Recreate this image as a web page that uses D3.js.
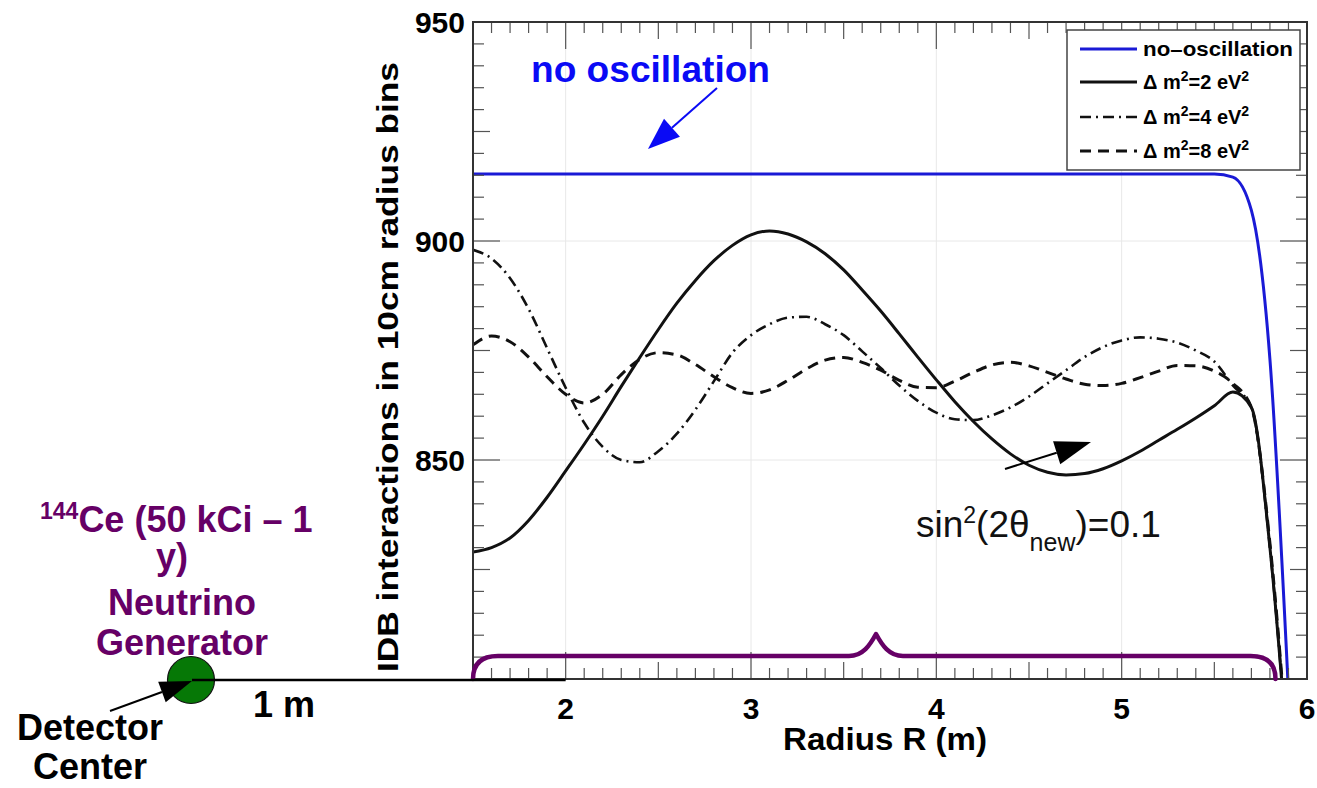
<!DOCTYPE html>
<html>
<head>
<meta charset="utf-8">
<script src="https://cdn.jsdelivr.net/npm/d3@7"></script>
<style>
  body { margin: 0; background: #fff; }
  svg { display: block; font-family: "Liberation Sans", Arial, Helvetica, sans-serif; }
</style>
</head>
<body>
<svg id="chart" width="1317" height="788"></svg>
<script>
// Radius of each 10 cm bin (m)
const radius = [1.5, 1.6, 1.7, 1.8, 1.9, 2.0, 2.1, 2.2, 2.3, 2.4,
                2.5, 2.6, 2.7, 2.8, 2.9, 3.0, 3.1, 3.2, 3.3, 3.4,
                3.5, 3.6, 3.7, 3.8, 3.9, 4.0, 4.1, 4.2, 4.3, 4.4,
                4.5, 4.6, 4.7, 4.8, 4.9, 5.0, 5.1, 5.2, 5.3, 5.4,
                5.5, 5.6, 5.7, 5.8, 5.9, 6.0];

// IBD interactions per bin, no oscillation
const noOscillation = [915.3, 915.3, 915.3, 915.3, 915.3, 915.3, 915.3, 915.3, 915.3, 915.3,
                       915.3, 915.3, 915.3, 915.3, 915.3, 915.3, 915.3, 915.3, 915.3, 915.3,
                       915.3, 915.3, 915.3, 915.3, 915.3, 915.3, 915.3, 915.3, 915.3, 915.3,
                       915.3, 915.3, 915.3, 915.3, 915.3, 915.3, 915.3, 915.3, 915.3, 915.3,
                       915.3, 914.6, 907.0, 873.0, 797.0, 700.0];

// Δm² = 2 eV²
const dm2 = [829.0, 830.0, 832.2, 836.2, 841.5, 847.5, 853.6, 860.0, 866.8, 873.4,
             879.8, 885.8, 891.0, 895.5, 899.0, 901.4, 902.3, 901.6, 899.8, 897.1,
             893.4, 888.8, 884.0, 878.8, 873.5, 868.3, 863.3, 858.8, 854.8, 851.4,
             848.8, 847.2, 846.6, 846.9, 848.0, 849.8, 852.0, 854.5, 857.0, 859.6,
             862.4, 865.5, 862.0, 830.0, 780.0, 720.0];

// Δm² = 4 eV²
const dm4 = [898.0, 896.0, 891.5, 884.5, 875.5, 866.5, 858.5, 853.0, 850.0, 849.5,
             852.0, 856.0, 861.5, 868.0, 874.5, 878.5, 881.0, 882.5, 882.7, 881.0,
             878.5, 874.8, 871.0, 867.0, 863.5, 860.8, 859.3, 859.1, 860.2, 862.0,
             864.5, 867.5, 870.5, 873.5, 875.8, 877.3, 878.0, 877.7, 876.8, 875.0,
             872.5, 867.0, 862.0, 830.0, 780.0, 720.0];

// Δm² = 8 eV²
const dm8 = [876.3, 878.3, 877.0, 873.5, 869.0, 865.0, 863.0, 865.0, 869.5, 873.0,
             874.5, 874.0, 871.8, 869.0, 866.5, 865.2, 866.0, 868.2, 870.8, 872.8,
             873.4, 872.3, 870.5, 868.2, 866.6, 866.5, 868.0, 870.0, 871.7, 872.3,
             871.5, 870.0, 868.5, 867.3, 867.0, 867.5, 868.8, 870.3, 871.6, 871.5,
             870.3, 867.5, 862.0, 831.0, 781.0, 720.0];

const xTickLabels = [2, 3, 4, 5, 6];
const yTickLabels = [850, 900, 950];

const seriesNames = ["no\u2013oscillation", "2", "4", "8"];

const svg = d3.select("#chart");

const x = d3.scaleLinear().domain([1.5, 6]).range([473, 1307]);
const y = d3.scaleLinear().domain([800, 950]).range([679, 22]);

const purple = "#660066";
const blue = "#1a1ad6";

// Light grid at the labelled ticks
const grid = svg.append("g").attr("stroke", "#e8e8e8").attr("stroke-width", 1);
xTickLabels.filter(v => v < 6).forEach(v => {
  grid.append("line").attr("x1", x(v)).attr("x2", x(v)).attr("y1", y(950)).attr("y2", y(800));
});
yTickLabels.filter(v => v < 950).forEach(v => {
  grid.append("line").attr("x1", x(1.5)).attr("x2", x(6)).attr("y1", y(v)).attr("y2", y(v));
});

// Curves, clipped to the frame
svg.append("clipPath").attr("id", "plot-clip")
  .append("rect").attr("x", x(1.5)).attr("y", y(950))
  .attr("width", x(6) - x(1.5)).attr("height", y(800) - y(950));

const line = vals => d3.line()
  .x((d, i) => x(radius[i]))
  .y(d => y(d))
  .curve(d3.curveMonotoneX)(vals);

const curves = svg.append("g").attr("clip-path", "url(#plot-clip)").attr("fill", "none");
const styles = [
  { vals: dm8, color: "#111", dash: "11,7", width: 3 },
  { vals: dm4, color: "#111", dash: "11,5,2,5", width: 2.6 },
  { vals: dm2, color: "#111", dash: null, width: 3 },
  { vals: noOscillation, color: blue, dash: null, width: 3 }
];
styles.forEach(s => {
  curves.append("path").attr("d", line(s.vals))
    .attr("stroke", s.color).attr("stroke-width", s.width)
    .attr("stroke-dasharray", s.dash).attr("stroke-linejoin", "round");
});

// Ticks on all four sides
const ticks = svg.append("g").attr("stroke", "#555").attr("stroke-width", 1.2);
d3.range(16, 60).map(v => v / 10).forEach(v => {
  const len = Number.isInteger(v) ? 27 : (Math.round(v * 10) % 5 === 0 ? 17 : 11);
  ticks.append("line").attr("x1", x(v)).attr("x2", x(v)).attr("y1", y(800)).attr("y2", y(800) - len);
  ticks.append("line").attr("x1", x(v)).attr("x2", x(v)).attr("y1", y(950)).attr("y2", y(950) + len);
});
d3.range(805, 950, 5).forEach(v => {
  const len = v % 50 === 0 ? 27 : (v % 25 === 0 ? 17 : 11);
  ticks.append("line").attr("x1", x(1.5)).attr("x2", x(1.5) + len).attr("y1", y(v)).attr("y2", y(v));
  ticks.append("line").attr("x1", x(6)).attr("x2", x(6) - len).attr("y1", y(v)).attr("y2", y(v));
});

// Frame
svg.append("rect").attr("x", x(1.5)).attr("y", y(950))
  .attr("width", x(6) - x(1.5)).attr("height", y(800) - y(950))
  .attr("fill", "none").attr("stroke", "#333").attr("stroke-width", 2);

// Tick labels
svg.append("g").selectAll("text").data(xTickLabels).join("text")
  .attr("x", d => x(d)).attr("y", 719)
  .attr("text-anchor", "middle").attr("font-size", 30).attr("font-weight", "bold")
  .text(d => d);
svg.append("g").selectAll("text").data(yTickLabels).join("text")
  .attr("x", 465).attr("y", d => y(d) + 11)
  .attr("text-anchor", "end").attr("font-size", 30).attr("font-weight", "bold")
  .text(d => d);

// Axis titles
svg.append("text").attr("x", 885).attr("y", 750)
  .attr("text-anchor", "middle").attr("font-size", 31).attr("font-weight", "bold")
  .attr("textLength", 204).attr("lengthAdjust", "spacingAndGlyphs")
  .text("Radius R (m)");
svg.append("text").attr("transform", "translate(398,367) rotate(-90)")
  .attr("text-anchor", "middle").attr("font-size", 30).attr("font-weight", "bold")
  .attr("textLength", 610).attr("lengthAdjust", "spacingAndGlyphs")
  .text("IDB interactions in 10cm radius bins");

// Legend
const legend = svg.append("g");
legend.append("rect").attr("x", 1067).attr("y", 30).attr("width", 233).attr("height", 140)
  .attr("fill", "#fff").attr("stroke", "#444").attr("stroke-width", 1.5);
const legendRows = [49, 82, 117, 151];
const legendStyles = [styles[3], styles[2], styles[1], styles[0]];
legendRows.forEach((ry, i) => {
  const s = legendStyles[i];
  legend.append("line").attr("x1", 1080).attr("x2", 1137).attr("y1", ry).attr("y2", ry)
    .attr("stroke", s.color).attr("stroke-width", s.width).attr("stroke-dasharray", s.dash);
  const t = legend.append("text").attr("x", 1143).attr("y", ry + 7)
    .attr("font-size", 20).attr("font-weight", "bold");
  if (i === 0) {
    t.attr("textLength", 150).attr("lengthAdjust", "spacingAndGlyphs").text(seriesNames[0]);
  } else {
    t.append("tspan").text("\u0394 m");
    t.append("tspan").attr("dy", -8).attr("font-size", 14).text("2");
    t.append("tspan").attr("dy", 8).text("=" + seriesNames[i] + " eV");
    t.append("tspan").attr("dy", -8).attr("font-size", 14).text("2");
  }
});

// Arrow helper: shaft plus filled triangular head ending at (x2, y2)
function arrow(x1, y1, x2, y2, headLen, headWidth, color, lw) {
  const a = Math.atan2(y2 - y1, x2 - x1);
  const bx = x2 - headLen * Math.cos(a), by = y2 - headLen * Math.sin(a);
  const px = -Math.sin(a) * headWidth / 2, py = Math.cos(a) * headWidth / 2;
  svg.append("line").attr("x1", x1).attr("y1", y1).attr("x2", bx).attr("y2", by)
    .attr("stroke", color).attr("stroke-width", lw);
  svg.append("path")
    .attr("d", `M${x2},${y2}L${bx + px},${by + py}L${bx - px},${by - py}Z`)
    .attr("fill", color);
}

// "no oscillation" label and pointer
svg.append("text").attr("x", 531).attr("y", 82)
  .attr("font-size", 37).attr("font-weight", "bold").attr("fill", "#0a0af5")
  .attr("textLength", 239).attr("lengthAdjust", "spacingAndGlyphs")
  .text("no oscillation");
arrow(717, 88, 648, 149, 32, 24, "#0a0af5", 2);

// Mixing-angle label and pointer
const mix = svg.append("text").attr("x", 916).attr("y", 537).attr("font-size", 37).attr("fill", "#111");
mix.append("tspan").text("sin");
mix.append("tspan").attr("dy", -14).attr("font-size", 23).text("2");
mix.append("tspan").attr("dy", 14).text("(2\u03b8");
mix.append("tspan").attr("dy", 14).attr("font-size", 25).text("new");
mix.append("tspan").attr("dy", -14).text(")=0.1");
arrow(1005, 469, 1091, 442, 36, 24, "#000", 2);

// Brace spanning the detector fiducial radius
const bx0 = x(1.5), bx1 = x(5.83), bmid = 876, bBase = y(800), bBar = 656, bTip = 634;
svg.append("path")
  .attr("d", `M${bx0},${bBase} Q${bx0},${bBar} ${bx0 + 25},${bBar}
              L${bmid - 27},${bBar} C${bmid - 13},${bBar} ${bmid - 6},${bBar - 11} ${bmid},${bTip}
              C${bmid + 6},${bBar - 11} ${bmid + 13},${bBar} ${bmid + 27},${bBar}
              L${bx1 - 25},${bBar} Q${bx1},${bBar} ${bx1},${bBase}`)
  .attr("fill", "none").attr("stroke", purple).attr("stroke-width", 4.5)
  .attr("stroke-linejoin", "round").attr("stroke-linecap", "round");

// Scale bar from the detector center
svg.append("line").attr("x1", 192).attr("x2", x(2)).attr("y1", 680).attr("y2", 680)
  .attr("stroke", "#000").attr("stroke-width", 2.5);

// Neutrino generator at the detector center
svg.append("circle").attr("cx", 191).attr("cy", 680).attr("r", 23.5)
  .attr("fill", "#067806").attr("stroke", "#111").attr("stroke-width", 1.2);
svg.append("line").attr("x1", 192).attr("x2", 215).attr("y1", 680).attr("y2", 680)
  .attr("stroke", "#000").attr("stroke-width", 2.5);
arrow(110, 711, 192, 681, 32, 22, "#000", 2);

// Left-hand annotations
function label(txt, xx, yy, color, anchor) {
  const t = svg.append("text").attr("x", xx).attr("y", yy).attr("fill", color)
    .attr("text-anchor", anchor || "middle")
    .attr("font-size", 36).attr("font-weight", "bold");
  if (txt) t.text(txt);
  return t;
}
const ce = label(null, 40, 532, purple, "start");
ce.append("tspan").attr("font-size", 23).attr("dy", -13).text("144");
ce.append("tspan").attr("dy", 13).text("Ce (50 kCi \u2013 1");
label("y)", 172, 569, purple);
label("Neutrino", 182, 615, purple);
label("Generator", 182, 655, purple);
label("1 m", 284, 717, "#000");
label("Detector", 90, 740, "#000");
label("Center", 90, 779, "#000");
</script>
</body>
</html>
